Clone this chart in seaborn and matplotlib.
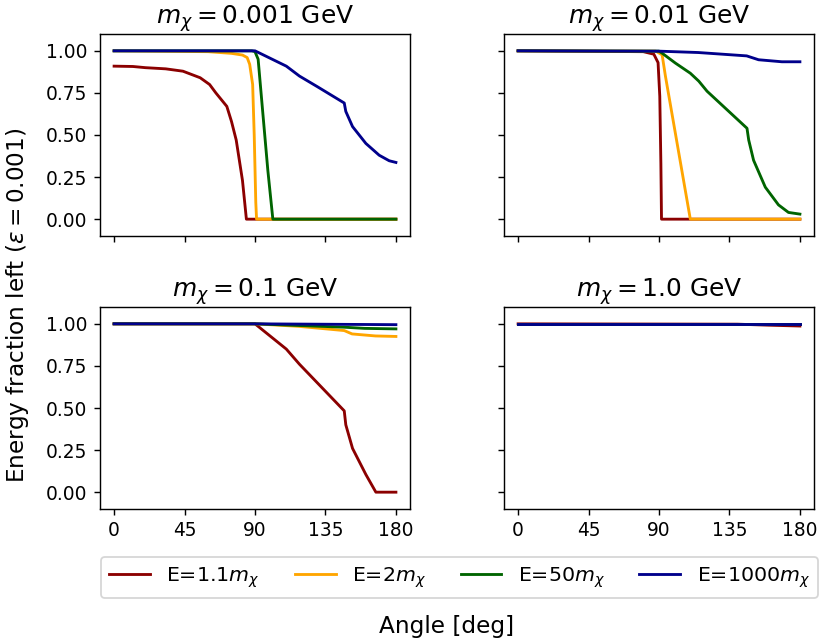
import pandas as pd
import seaborn as sns
import matplotlib.pyplot as plt

# series order and look
labels = ['E=1.1$m_\\chi$', 'E=2$m_\\chi$', 'E=50$m_\\chi$', 'E=1000$m_\\chi$']
colors = ['darkred', 'orange', 'darkgreen', 'darkblue']
masses = ['0.001', '0.01', '0.1', '1.0']

# m_chi = 0.001 GeV
m1_red_x = [0, 12, 20, 33, 44, 55, 61, 65, 72, 75, 78, 80, 82, 84.5, 180]
m1_red_y = [0.909, 0.907, 0.90, 0.893, 0.879, 0.84, 0.80, 0.75, 0.67,
            0.58, 0.47, 0.35, 0.23, 0, 0]
m1_orange_x = [0, 60, 75, 82, 85, 86.6, 88.5, 89.5, 90.5, 91, 180]
m1_orange_y = [1.0, 0.995, 0.985, 0.975, 0.96, 0.92, 0.8, 0.5, 0.1, 0, 0]
m1_green_x = [0, 88, 90, 92, 95, 98.2, 101.4, 180]
m1_green_y = [1.0, 1.0, 0.995, 0.95, 0.63, 0.29, 0, 0]
m1_blue_x = [0, 90, 110, 118.4, 130, 147, 148, 152.3, 160.8, 169.3, 175.7,
             180]
m1_blue_y = [1.0, 1.0, 0.909, 0.85, 0.786, 0.69, 0.64, 0.55, 0.45, 0.38,
             0.347, 0.337]

# m_chi = 0.01 GeV
m2_red_x = [0, 80, 86.7, 89.4, 90.5, 91.2, 91.6, 180]
m2_red_y = [1.0, 0.995, 0.98, 0.93, 0.73, 0.33, 0, 0]
m2_orange_x = [0, 88, 92, 94.1, 110, 180]
m2_orange_y = [1.0, 0.998, 0.976, 0.85, 0, 0]
m2_green_x = [0, 90, 92, 100.5, 110, 115.4, 120.7, 146.2, 147.3, 150.4,
              157.9, 166.3, 172.7, 180]
m2_green_y = [1.0, 0.998, 0.986, 0.927, 0.867, 0.82, 0.76, 0.54, 0.47, 0.35,
              0.19, 0.085, 0.04, 0.03]
m2_blue_x = [0, 90, 115, 146, 153.6, 168.5, 180]
m2_blue_y = [1.0, 0.998, 0.99, 0.97, 0.947, 0.935, 0.935]

# m_chi = 0.1 GeV
m3_red_x = [0, 90, 110, 118.4, 147, 148, 152.3, 160.8, 167.2, 180]
m3_red_y = [1.0, 1.0, 0.85, 0.76, 0.483, 0.40, 0.26, 0.105, 0, 0]
m3_orange_x = [0, 90, 118, 147, 152, 167, 180]
m3_orange_y = [1.0, 1.0, 0.985, 0.96, 0.94, 0.928, 0.925]
m3_green_x = [0, 90, 147, 160, 180]
m3_green_y = [1.0, 1.0, 0.98, 0.973, 0.97]
m3_blue_x = [0, 90, 180]
m3_blue_y = [1.0, 1.0, 0.995]

# m_chi = 1.0 GeV
m4_red_x = [0, 140, 160, 180]
m4_red_y = [1.0, 0.998, 0.992, 0.987]
m4_orange_x = [0, 180]
m4_orange_y = [1.0, 1.0]
m4_green_x = [0, 180]
m4_green_y = [1.0, 1.0]
m4_blue_x = [0, 180]
m4_blue_y = [1.0, 1.0]


def build_frame():
    """
    Collects all the curves into one long DataFrame.
    """
    panels = [
        [(m1_red_x, m1_red_y), (m1_orange_x, m1_orange_y),
         (m1_green_x, m1_green_y), (m1_blue_x, m1_blue_y)],
        [(m2_red_x, m2_red_y), (m2_orange_x, m2_orange_y),
         (m2_green_x, m2_green_y), (m2_blue_x, m2_blue_y)],
        [(m3_red_x, m3_red_y), (m3_orange_x, m3_orange_y),
         (m3_green_x, m3_green_y), (m3_blue_x, m3_blue_y)],
        [(m4_red_x, m4_red_y), (m4_orange_x, m4_orange_y),
         (m4_green_x, m4_green_y), (m4_blue_x, m4_blue_y)],
    ]
    rows = []
    for mass, curves in zip(masses, panels):
        for label, (xs, ys) in zip(labels, curves):
            for x, y in zip(xs, ys):
                rows.append({'mass': mass, 'energy': label,
                             'angle': x, 'frac': y})
    return pd.DataFrame(rows)


def main():
    df = build_frame()

    fig = plt.figure(figsize=(822 / 128, 641 / 128), dpi=128)
    lefts = [100 / 822, 504 / 822]
    bottoms = [1 - 236 / 641, 1 - 509 / 641]
    w = 310 / 822
    h = 202 / 641
    axes = []
    for i, mass in enumerate(masses):
        row, col = divmod(i, 2)
        share = axes[0] if axes else None
        ax = fig.add_axes([lefts[col], bottoms[row], w, h],
                          sharex=share, sharey=share)
        sub = df[df['mass'] == mass]
        # one call per curve so blue always ends up on top
        for label, color in zip(labels, colors):
            sns.lineplot(data=sub[sub['energy'] == label], x='angle',
                         y='frac', color=color, label=label,
                         estimator=None, sort=False, linewidth=1.6, ax=ax)
        ax.set_title('$m_\\chi = %s$ GeV' % mass, fontsize=14)
        ax.set_xlabel('')
        ax.set_ylabel('')
        ax.set_xticks([0, 45, 90, 135, 180])
        ax.set_yticks([0, 0.25, 0.5, 0.75, 1.0])
        ax.set_ylim(-0.1, 1.1)
        ax.tick_params(labelbottom=(row == 1), labelleft=(col == 0),
                       labelsize=10.5)
        ax.get_legend().remove()
        axes.append(ax)

    handles, labs = axes[0].get_legend_handles_labels()
    fig.legend(handles, labs, loc='lower left', ncol=4, mode='expand',
               bbox_to_anchor=(101 / 822, 1 - 598 / 641, 717 / 822,
                               40 / 641),
               borderaxespad=0, fontsize=11.5, handlelength=2.0)
    fig.text(447 / 822, 1 - 627 / 641, 'Angle [deg]', ha='center',
             va='center', fontsize=13)
    fig.text(18 / 822, 1 - 305 / 641,
             'Energy fraction left ($\\varepsilon = 0.001$)', rotation=90,
             ha='center', va='center', fontsize=13)
    plt.savefig('out.png', dpi=128)


if __name__ == '__main__':
    main()
